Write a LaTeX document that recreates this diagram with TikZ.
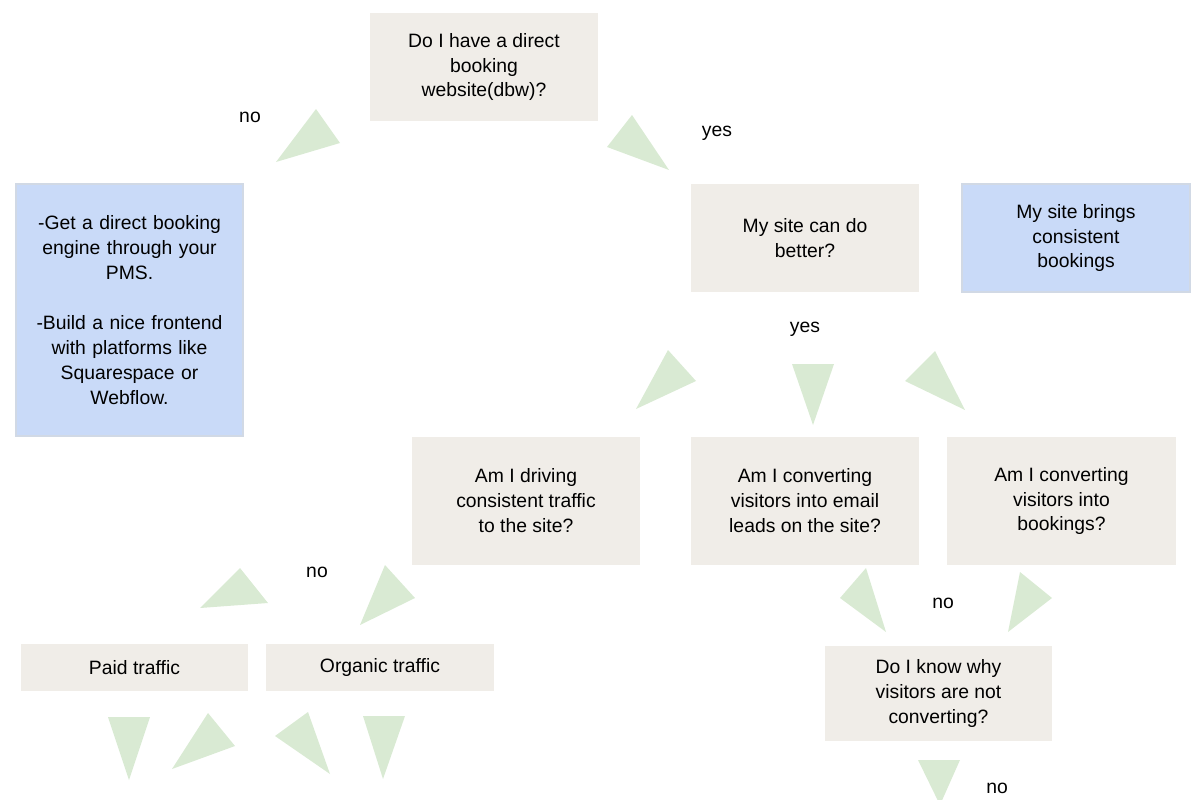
\documentclass[tikz,border=0pt]{standalone}
\usepackage{fontspec}
\setmainfont{Liberation Sans}
\usetikzlibrary{positioning}
\definecolor{boxbeige}{HTML}{F0EDE8}
\definecolor{boxblue}{HTML}{C9DAF8}
\definecolor{arrowgreen}{HTML}{D9EAD3}
\begin{document}
\begin{tikzpicture}[
  x=0.01cm, y=-0.01cm,
  % --- styles ------------------------------------------------------------
  box/.style={
    rectangle, fill=boxbeige, inner sep=0pt,
    font=\fontsize{5.5}{7.1}\selectfont, align=center
  },
  infobox/.style={box, fill=boxblue, draw=boxblue!70!gray!60},
  tri/.style={fill=arrowgreen},
  lbl/.style={font=\fontsize{5.5}{7.1}\selectfont}
]
\useasboundingbox (0,0) rectangle (1200,800);

% --------------------- boxes ---------------------------------------------
\node[box, minimum width=2.28cm, minimum height=1.08cm] (dbw) at (484,67)
  {Do I have a direct\\booking\\website(dbw)?};
\node[infobox, minimum width=2.27cm, minimum height=2.52cm, text width=2.1cm] (engine) at (129.5,310)
  {\centering -Get a direct booking\\engine through your\\PMS.\\[7.1pt]-Build a nice frontend\\with platforms like\\Squarespace or\\Webflow.};
\node[box, minimum width=2.28cm, minimum height=1.08cm] (better) at (805,238)
  {My site can do\\better?};
\node[infobox, minimum width=2.28cm, minimum height=1.08cm] (consistent) at (1076,238)
  {My site brings\\consistent\\bookings};
\node[box, minimum width=2.28cm, minimum height=1.28cm] (traffic) at (526,501)
  {Am I driving\\consistent traffic\\to the site?};
\node[box, minimum width=2.28cm, minimum height=1.28cm] (email) at (805,501)
  {Am I converting\\visitors into email\\leads on the site?};
\node[box, minimum width=2.29cm, minimum height=1.28cm] (bookings) at (1061.5,501)
  {Am I converting\\visitors into\\bookings?};
\node[box, minimum width=2.27cm, minimum height=0.47cm] (paid) at (134.5,667.5)
  {Paid traffic};
\node[box, minimum width=2.28cm, minimum height=0.47cm] (organic) at (380,667.5)
  {Organic traffic};
\node[box, minimum width=2.27cm, minimum height=0.95cm] (why) at (938.5,693.5)
  {Do I know why\\visitors are not\\converting?};

% --------------------- labels --------------------------------------------
\node[lbl] (no1) at (250,117) {no};
\node[lbl] (yes1) at (717,133) {yes};
\node[lbl] (yes2) at (805,329) {yes};
\node[lbl] (no2) at (317,572) {no};
\node[lbl] (no3) at (943,603) {no};
\node[lbl] (no4) at (997,788) {no};

% --------------------- green arrow triangles -----------------------------
\fill[tri] (316,109) -- (340,143) -- (276,162) -- cycle;
\fill[tri] (632,115) -- (607,147) -- (669,170) -- cycle;
\fill[tri] (668,350) -- (696,381) -- (636,409) -- cycle;
\fill[tri] (792,364) -- (834,364) -- (813,425) -- cycle;
\fill[tri] (935,351) -- (905,381) -- (965,410) -- cycle;
\fill[tri] (240,568) -- (268,603) -- (200,608) -- cycle;
\fill[tri] (385,565) -- (415,598) -- (360,625) -- cycle;
\fill[tri] (866,568) -- (840,598) -- (886,632) -- cycle;
\fill[tri] (1020,572) -- (1052,598) -- (1008,632) -- cycle;
\fill[tri] (108,717) -- (150,717) -- (129,780) -- cycle;
\fill[tri] (208,713) -- (235,746) -- (172,769) -- cycle;
\fill[tri] (308,712) -- (330,774) -- (275,736) -- cycle;
\fill[tri] (363,716) -- (405,716) -- (383,779) -- cycle;
\fill[tri] (918,760) -- (960,760) -- (940,805) -- cycle;

\end{tikzpicture}
\end{document}
